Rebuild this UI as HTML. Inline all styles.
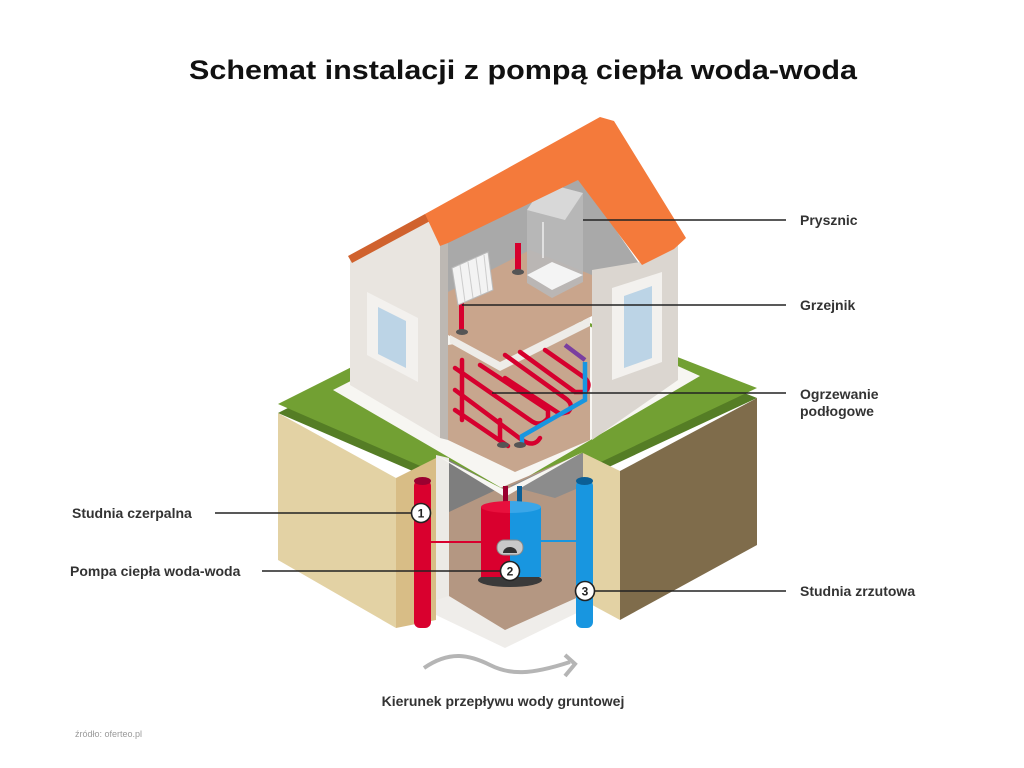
<!DOCTYPE html>
<html><head><meta charset="utf-8"><style>
html,body{margin:0;padding:0;background:#fff}
svg{display:block}
text{font-family:"Liberation Sans",sans-serif}
.l{font-size:14px;fill:#333;font-weight:bold}
</style></head><body>
<svg width="1024" height="768" viewBox="0 0 1024 768" xmlns="http://www.w3.org/2000/svg">
<text x="523" y="79" text-anchor="middle" font-size="27" font-weight="bold" fill="#111" textLength="668" lengthAdjust="spacingAndGlyphs">Schemat instalacji z pompą ciepła woda-woda</text>

<!-- grass -->
<polygon points="278,413 505,298 757,398 510,513" fill="#557d25"/>
<polygon points="278,404 505,290 757,388 510,505" fill="#72a033"/>
<!-- soils -->
<polygon points="278,413 396,478 396,628 278,560" fill="#e3d2a4"/>
<polygon points="396,478 436,458 436,620 396,628" fill="#d8bd86"/>
<polygon points="620,471 757,398 757,545 620,620" fill="#7f6c4b"/>
<polygon points="583,453 620,471 620,620 583,600" fill="#e3d2a4"/>
<!-- white platform -->
<polygon points="333,390 520,295 700,376 505,490" fill="#f7f6f2"/>

<!-- basement -->
<polygon points="436,455 449,458 449,600 436,615" fill="#eceae6"/>
<polygon points="449,460 500,488 583,453 583,600 505,638 449,605" fill="#b49782"/>
<polygon points="449,460 500,488 449,512" fill="#7e7e7e"/>
<polygon points="510,486 583,453 583,486 555,498" fill="#8c8c8c"/>
<polygon points="449,596 505,630 583,595 583,610 505,648 436,615 436,600" fill="#efedea"/>
<polygon points="436,455 505,490 583,452 505,497" fill="#f7f6f2"/>

<!-- tank -->
<rect x="503" y="486" width="5" height="22" fill="#9a0030"/>
<rect x="517" y="486" width="5" height="22" fill="#0b5f96"/>
<ellipse cx="510" cy="580" rx="32" ry="7" fill="#3a3a3a"/>
<rect x="481" y="507" width="29" height="70" fill="#d9002e"/>
<rect x="510" y="507" width="31" height="70" fill="#1896e0"/>
<path d="M481 507 A29 6 0 0 1 510 501 L510 513 A29 6 0 0 1 481 507Z" fill="#e8103d"/>
<path d="M510 501 A31 6 0 0 1 541 507 A31 6 0 0 1 510 513Z" fill="#3aa6e8"/>
<rect x="497" y="540" width="26" height="15" rx="7" fill="#c9c9c9" stroke="#888" stroke-width="1"/>
<path d="M503 553 A7 6 0 0 1 517 553Z" fill="#333"/>
<line x1="430" y1="542" x2="481" y2="542" stroke="#d9002e" stroke-width="2"/>
<line x1="541" y1="541" x2="576" y2="541" stroke="#1896e0" stroke-width="2"/>
<!-- wells -->
<rect x="414" y="480" width="17" height="148" rx="6" fill="#d9002e"/>
<ellipse cx="422.5" cy="481" rx="8.5" ry="4" fill="#9a0030"/>
<rect x="576" y="480" width="17" height="148" rx="6" fill="#1896e0"/>
<ellipse cx="584.5" cy="481" rx="8.5" ry="4" fill="#0b5f96"/>

<!-- house -->
<polygon points="350,260 432,218 440,226 440,438 350,385" fill="#e9e5e0"/>
<polygon points="440,240 448,240 448,440 440,438" fill="#bdb8b3"/>
<polygon points="448,242 580,178 640,265 592,285 448,292" fill="#a9a9a9"/>
<polygon points="448,345 590,322 590,440 515,472 448,440" fill="#c7a68e"/>
<polygon points="448,292 530,250 592,275 592,316 500,362 448,335" fill="#c9a58c"/>
<polygon points="450,335 500,362 590,317 590,326 500,371 450,343" fill="#eeece8"/>
<!-- floor heating pipes -->
<g fill="none" stroke="#d6002e" stroke-width="4.5" stroke-linecap="round">
<path d="M455 368 L530 420 Q540 428 548 418 L548 410 L480 365"/>
<path d="M455 390 L522 440 Q534 448 540 438"/>
<path d="M455 410 L508 446"/>
<path d="M545 350 L585 378 Q592 385 585 392 L575 392 L520 352"/>
<path d="M462 360 L462 420"/>
<path d="M505 355 L565 398 Q575 405 568 412 L560 414 L505 378"/>
<path d="M500 420 L500 440"/>
</g>
<path d="M565 345 L585 360" stroke="#7a3ea0" stroke-width="4.5"/>
<path d="M585 362 L585 400 L522 436 L522 444" fill="none" stroke="#1896e0" stroke-width="4.5"/>
<ellipse cx="503" cy="445" rx="6" ry="3" fill="#555"/><ellipse cx="520" cy="445" rx="6" ry="3" fill="#555"/>
<!-- upper items -->
<rect x="459" y="300" width="5" height="30" fill="#d6002e"/>
<ellipse cx="462" cy="332" rx="6" ry="3" fill="#555"/>
<rect x="515" y="243" width="6" height="28" fill="#d6002e"/>
<ellipse cx="518" cy="272" rx="6" ry="3" fill="#555"/>
<polygon points="452,268 488,252 493,290 458,305" fill="#f3f3f3" stroke="#bbb" stroke-width="1"/>
<g stroke="#ccc" stroke-width="1"><line x1="460" y1="265" x2="465" y2="302"/><line x1="468" y1="262" x2="473" y2="298"/><line x1="476" y1="258" x2="481" y2="295"/><line x1="484" y1="255" x2="488" y2="292"/></g>
<polygon points="527,210 545,183 583,193 583,282 552,298 527,283" fill="#b8b8b8" opacity="0.9"/>
<polygon points="527,210 545,183 583,193 565,220" fill="#d8d8d8"/>
<polygon points="527,275 552,262 583,275 552,290" fill="#f4f4f4"/>
<line x1="543" y1="222" x2="543" y2="258" stroke="#eee" stroke-width="1.5"/>
<!-- right wall -->
<polygon points="592,270 640,262 678,245 678,380 592,440" fill="#dbd6d0"/>
<polygon points="612,288 662,272 662,362 612,380" fill="#f3f1ee"/>
<polygon points="624,296 652,286 652,358 624,368" fill="#bcd4e6"/>
<!-- left window -->
<polygon points="367,292 418,318 418,382 367,355" fill="#f3f1ee"/>
<polygon points="378,307 406,321 406,368 378,354" fill="#bcd4e6"/>
<!-- roof -->
<polygon points="348,256 425,214 432,220 352,263" fill="#d0622e"/>
<polygon points="425,214 600,117 614,121 686,238 674,249 642,265 578,180 448,243 440,246" fill="#f47a3b"/>

<!-- leader lines -->
<g stroke="#222" stroke-width="1.6">
<line x1="583" y1="220" x2="786" y2="220"/>
<line x1="462" y1="305" x2="786" y2="305"/>
<line x1="492" y1="393" x2="786" y2="393"/>
<line x1="215" y1="513" x2="411" y2="513"/>
<line x1="262" y1="571" x2="501" y2="571"/>
<line x1="594" y1="591" x2="786" y2="591"/>
</g>
<g fill="#fff" stroke="#222" stroke-width="1.6">
<circle cx="421" cy="513" r="9.5"/><circle cx="510" cy="571" r="9.5"/><circle cx="585" cy="591" r="9.5"/>
</g>
<g font-size="12" font-weight="bold" fill="#222" text-anchor="middle">
<text x="421" y="517.5">1</text><text x="510" y="575.5">2</text><text x="585" y="595.5">3</text>
</g>

<text class="l" x="800" y="225">Prysznic</text>
<text class="l" x="800" y="310">Grzejnik</text>
<text class="l" x="800" y="399">Ogrzewanie</text>
<text class="l" x="800" y="416">podłogowe</text>
<text class="l" x="800" y="596">Studnia zrzutowa</text>
<text class="l" x="72" y="518">Studnia czerpalna</text>
<text class="l" x="70" y="576">Pompa ciepła woda-woda</text>

<path d="M424 668 C450 650 470 655 490 665 C510 675 530 675 570 662" fill="none" stroke="#b5b5b5" stroke-width="4"/>
<path d="M565 655 L575 664 L565 676" fill="none" stroke="#b5b5b5" stroke-width="4"/>
<text class="l" x="503" y="706" text-anchor="middle">Kierunek przepływu wody gruntowej</text>
<text x="75" y="737" font-size="9" fill="#999">źródło: oferteo.pl</text>
</svg>
</body></html>
